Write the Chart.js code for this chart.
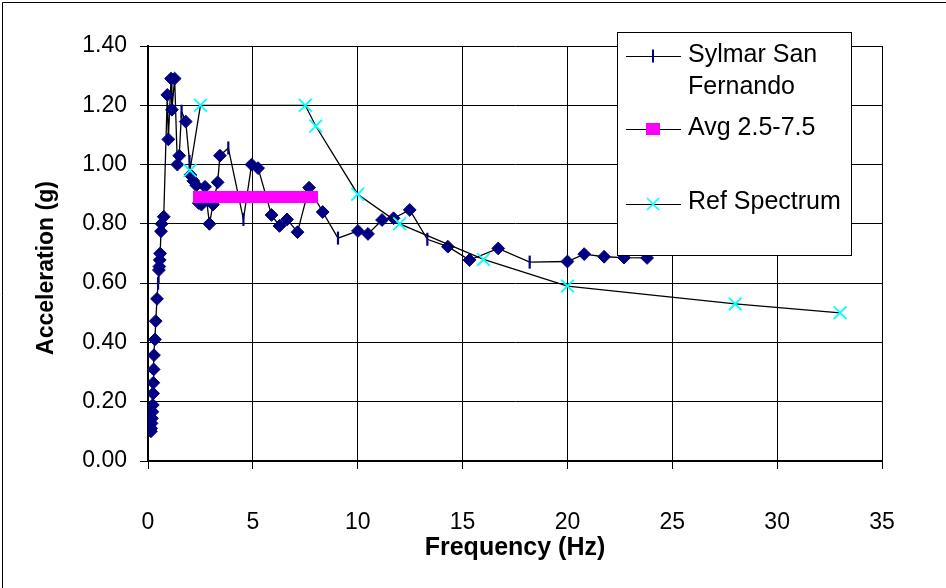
<!DOCTYPE html>
<html>
<head>
<meta charset="utf-8">
<script src="https://cdn.jsdelivr.net/npm/chart.js@4/dist/chart.umd.min.js"></script>
<style>
  html, body { margin: 0; padding: 0; background: #fff; }
  #wrap { position: relative; width: 946px; height: 588px; }
</style>
</head>
<body>
<div id="wrap"><canvas id="c" width="946" height="588"></canvas></div>
<script>
// Sylmar (San Fernando) response spectrum: frequency (Hz) and spectral acceleration (g)
const sylmarFreq = [
  0.14, 0.15, 0.17, 0.19, 0.21, 0.23, 0.245, 0.255, 0.27, 0.285,
  0.33, 0.37, 0.43, 0.48, 0.52, 0.54, 0.56, 0.58, 0.62, 0.65,
  0.75, 0.92, 0.97, 1.10, 1.14, 1.27, 1.40, 1.49, 1.60, 1.80,
  1.98, 2.02, 2.16, 2.30, 2.42, 2.55, 2.72, 2.93, 3.10, 3.32,
  3.43, 3.83, 4.55, 4.94, 5.25, 5.89, 6.27, 6.63, 7.13, 7.68,
  8.33, 9.06, 10.01, 10.49, 11.16, 11.71, 12.48, 13.32, 14.30, 15.33,
  16.70, 18.20, 20.00, 20.80, 21.75, 22.70, 23.80
];
const sylmarAccel = [
  0.100, 0.110, 0.127, 0.144, 0.166, 0.189, 0.228, 0.264, 0.309, 0.357,
  0.410, 0.472, 0.547, 0.600, 0.644, 0.656, 0.678, 0.700, 0.775, 0.800,
  0.824, 1.235, 1.085, 1.290, 1.185, 1.290, 1.000, 1.030, 1.180, 1.145,
  1.010, 0.965, 0.945, 0.930, 0.870, 0.865, 0.925, 0.800, 0.865, 0.940,
  1.030, 1.056, 0.815, 1.000, 0.988, 0.830, 0.793, 0.815, 0.772, 0.922,
  0.840, 0.752, 0.776, 0.766, 0.813, 0.819, 0.847, 0.748, 0.723, 0.678,
  0.717, 0.671, 0.673, 0.698, 0.689, 0.686, 0.685
];
// points of the Sylmar record drawn with the plain tick marker (the rest carry diamonds)
const sylmarTickPoints = [13, 28, 30, 41, 42, 51, 57, 61];

// Average over the 2.5-7.5 Hz band
const avgFreq = [2.5, 2.75, 3.0, 3.25, 3.5, 3.75, 4.0, 4.25, 4.5, 4.75, 5.0,
                 5.25, 5.5, 5.75, 6.0, 6.25, 6.5, 6.75, 7.0, 7.25, 7.5, 7.75];
const avgAccel = [0.89, 0.89, 0.89, 0.89, 0.89, 0.89, 0.89, 0.89, 0.89, 0.89, 0.89,
                  0.89, 0.89, 0.89, 0.89, 0.89, 0.89, 0.89, 0.89, 0.89, 0.89, 0.89];

// Reference spectrum
const refFreq = [2.0, 2.5, 7.5, 8.0, 10.0, 12.0, 16.0, 20.0, 28.0, 33.0];
const refAccel = [0.98, 1.20, 1.20, 1.13, 0.90, 0.80, 0.68, 0.59, 0.53, 0.50];

// Axis ranges and labels
const xRange = [0, 35], xStep = 5;
const yRange = [0, 1.4], yStep = 0.2;
const seriesNames = ['Sylmar San Fernando', 'Avg 2.5-7.5', 'Ref Spectrum'];
const xTitle = 'Frequency (Hz)';
const yTitle = 'Acceleration (g)';

const FONT = "'Liberation Sans', Arial, Helvetica, sans-serif";
const NAVY = '#000080', MAGENTA = '#FF00FF', CYAN = '#00FFFF';

const toXY = (xs, ys) => xs.map((x, i) => ({ x: x, y: ys[i] }));
const tickSet = new Set(sylmarTickPoints);

// slightly wide square marker for the band average
const squareMark = document.createElement('canvas');
squareMark.width = 14; squareMark.height = 12;
(function () {
  const g = squareMark.getContext('2d');
  g.fillStyle = MAGENTA;
  g.fillRect(0, 0, 14, 12);
})();

// Legend, y-axis title and outer frame, painted over the plot
const overlay = {
  id: 'overlay',
  afterDraw(chart) {
    const ctx = chart.ctx;
    ctx.save();
    // outer frame
    ctx.strokeStyle = '#000';
    ctx.lineWidth = 1;
    ctx.beginPath();
    ctx.moveTo(2.5, 588); ctx.lineTo(2.5, 2.5); ctx.lineTo(946, 2.5);
    ctx.stroke();

    // y-axis title
    ctx.fillStyle = '#000';
    ctx.font = 'bold 23px ' + FONT;
    ctx.textAlign = 'center';
    ctx.textBaseline = 'middle';
    ctx.translate(47, 268);
    ctx.rotate(-Math.PI / 2);
    ctx.fillText(yTitle, 0, 0);
    ctx.setTransform(1, 0, 0, 1, 0, 0);

    // legend box
    const bx = 617.5, by = 32.5, bw = 234, bh = 223;
    ctx.fillStyle = '#fff';
    ctx.fillRect(bx, by, bw, bh);
    ctx.strokeStyle = '#000';
    ctx.lineWidth = 1;
    ctx.strokeRect(bx, by, bw, bh);

    const sx0 = 626, sx1 = 681, mx = 653, tx = 688;
    const rows = [56, 129, 204];
    ctx.lineWidth = 1.2;
    rows.forEach(y => {
      ctx.strokeStyle = '#000';
      ctx.beginPath(); ctx.moveTo(sx0, y + 0.5); ctx.lineTo(sx1, y + 0.5); ctx.stroke();
    });
    // tick marker
    ctx.strokeStyle = NAVY; ctx.lineWidth = 2;
    ctx.beginPath(); ctx.moveTo(mx, rows[0] - 6.5); ctx.lineTo(mx, rows[0] + 6.5); ctx.stroke();
    // square marker
    ctx.drawImage(squareMark, mx - 7, rows[1] - 6);
    // x marker
    ctx.strokeStyle = CYAN; ctx.lineWidth = 1.6;
    ctx.beginPath();
    ctx.moveTo(mx - 6, rows[2] - 6); ctx.lineTo(mx + 6, rows[2] + 6);
    ctx.moveTo(mx - 6, rows[2] + 6); ctx.lineTo(mx + 6, rows[2] - 6);
    ctx.stroke();

    ctx.fillStyle = '#000';
    ctx.font = '25px ' + FONT;
    ctx.textAlign = 'left';
    ctx.textBaseline = 'middle';
    ctx.fillText('Sylmar San', tx, 55);
    ctx.fillText('Fernando', tx, 87);
    ctx.fillText(seriesNames[1], tx, 128);
    ctx.fillText(seriesNames[2], tx, 202);
    ctx.restore();
  }
};

new Chart(document.getElementById('c'), {
  type: 'line',
  data: {
    datasets: [
      {
        label: seriesNames[2],
        data: toXY(refFreq, refAccel),
        borderColor: '#000',
        borderWidth: 1.3,
        pointStyle: 'crossRot',
        pointRadius: 9,
        pointBorderColor: CYAN,
        pointBorderWidth: 1.8,
        pointBackgroundColor: CYAN,
        order: 0
      },
      {
        label: seriesNames[1],
        data: toXY(avgFreq, avgAccel),
        borderColor: '#000',
        borderWidth: 1,
        pointStyle: squareMark,
        pointRadius: 7,
        order: 1
      },
      {
        label: seriesNames[0],
        data: toXY(sylmarFreq, sylmarAccel),
        borderColor: '#000',
        borderWidth: 1.3,
        pointStyle: c => tickSet.has(c.dataIndex) ? 'line' : 'rectRot',
        pointRotation: c => tickSet.has(c.dataIndex) ? 90 : 0,
        pointRadius: c => tickSet.has(c.dataIndex) ? 6.5 : 6.4,
        pointBorderWidth: c => tickSet.has(c.dataIndex) ? 2.2 : 1,
        pointBorderColor: NAVY,
        pointBackgroundColor: NAVY,
        order: 2
      }
    ]
  },
  options: {
    responsive: false,
    animation: false,
    devicePixelRatio: 1,
    layout: { padding: { left: 0, top: 46, right: 64, bottom: 0 } },
    plugins: { legend: { display: false }, tooltip: { enabled: false } },
    elements: { line: { tension: 0 } },
    scales: {
      x: {
        type: 'linear',
        min: xRange[0], max: xRange[1],
        afterFit: s => { s.height = 127; },
        ticks: {
          stepSize: xStep,
          padding: 40,
          color: '#000',
          font: { family: FONT, size: 23 },
          maxRotation: 0
        },
        grid: { color: '#000', lineWidth: 1, tickLength: 8, drawTicks: true },
        border: { color: '#000', width: 2 },
        title: {
          display: true,
          text: xTitle,
          color: '#000',
          font: { family: FONT, size: 25, weight: 'bold' },
          padding: { top: 0, bottom: 25 }
        }
      },
      y: {
        type: 'linear',
        min: yRange[0], max: yRange[1],
        afterFit: s => { s.width = 148; },
        ticks: {
          stepSize: yStep,
          padding: 13,
          color: '#000',
          font: { family: FONT, size: 23 },
          callback: v => Number(v).toFixed(2)
        },
        grid: { color: '#000', lineWidth: 1, tickLength: 8, drawTicks: true },
        border: { color: '#000', width: 2 }
      }
    }
  },
  plugins: [overlay]
});
</script>
</body>
</html>
